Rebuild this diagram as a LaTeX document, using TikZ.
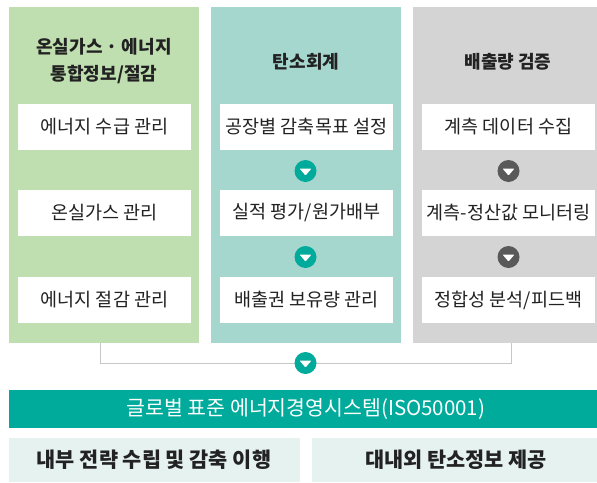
\documentclass[tikz,border=0pt]{standalone}
\usepackage{fontspec}
\setmainfont{Noto Sans CJK KR}
\usetikzlibrary{calc}
\definecolor{colgreen}{HTML}{C0DFB0}
\definecolor{colteal}{HTML}{A6D7CF}
\definecolor{colgray}{HTML}{D4D4D4}
\definecolor{darkteal}{HTML}{00AB9C}
\definecolor{paleteal}{HTML}{E6F2F0}
\definecolor{darkgray}{HTML}{595959}
\definecolor{txt}{HTML}{222222}
\definecolor{linegray}{HTML}{C8C8C8}
\begin{document}
\begin{tikzpicture}[x=1pt,y=-1pt,
  itembox/.style={fill=white,minimum width=173pt,minimum height=46pt,inner sep=0pt,font=\fontsize{18.5}{22}\selectfont,text=txt},
  coltitle/.style={font=\fontsize{18}{27}\selectfont\bfseries,text=txt,align=center},
  flowdot/.style={circle,minimum size=22pt,inner sep=0pt},
  bottomtext/.style={font=\fontsize{20.8}{24}\selectfont\bfseries,text=txt}
]
\useasboundingbox (0,0) rectangle (597,482);
\fill[white] (0,0) rectangle (597,482);
% columns
\fill[colgreen] (9,7) rectangle (199,343);
\fill[colteal] (211,7) rectangle (401,343);
\fill[colgray] (413,7) rectangle (597,343);
\coordinate (gbot) at (100,343);
\coordinate (rbot) at (511,343);
% connector
\draw[linegray,line width=1pt] (gbot) -- (100,363) -- (511,363) -- (rbot);
% titles
\node[coltitle] (t1) at (104,61.5) {온실가스 · 에너지\\통합정보/절감};
\node[coltitle] (t2) at (306,62) {탄소회계};
\node[coltitle] (t3) at (508,62) {배출량 검증};
% items
\node[itembox] (g1) at (104.5,127) {에너지 수급 관리};
\node[itembox] (g2) at (104.5,213) {온실가스 관리};
\node[itembox] (g3) at (104.5,300) {에너지 절감 관리};
\node[itembox] (c1) at (306.5,127) {공장별 감축목표 설정};
\node[itembox] (c2) at (306.5,213) {실적 평가/원가배부};
\node[itembox] (c3) at (306.5,300) {배출권 보유량 관리};
\node[itembox] (v1) at (508.5,127) {계측 데이터 수집};
\node[itembox] (v2) at (508.5,213) {계측-정산값 모니터링};
\node[itembox] (v3) at (508.5,300) {정합성 분석/피드백};
% flow dots
\foreach \n/\x/\y/\c in {d1/305.5/171/darkteal, d2/305.5/257/darkteal, d3/508.5/171/darkgray, d4/508.5/257/darkgray, d5/305.5/363/darkteal}{
  \node[flowdot,fill=\c] (\n) at (\x,\y) {};
  \fill[white,rounded corners=0.8pt] ($(\n)+(-6,-2.5)$) -- ($(\n)+(6,-2.5)$) -- ($(\n)+(0,4.5)$) -- cycle;
}
% bottom bar
\fill[darkteal] (9,390) rectangle (597,428);
\node[font=\fontsize{20.5}{24}\selectfont,text=white] (bar) at (306,409) {글로벌 표준 에너지경영시스템(ISO50001)};
\fill[paleteal] (9,438) rectangle (300,482);
\fill[paleteal] (312,438) rectangle (597,482);
\node[bottomtext] (b1) at (154,460) {내부 전략 수립 및 감축 이행};
\node[bottomtext] (b2) at (456,460) {대내외 탄소정보 제공};
\end{tikzpicture}
\end{document}
